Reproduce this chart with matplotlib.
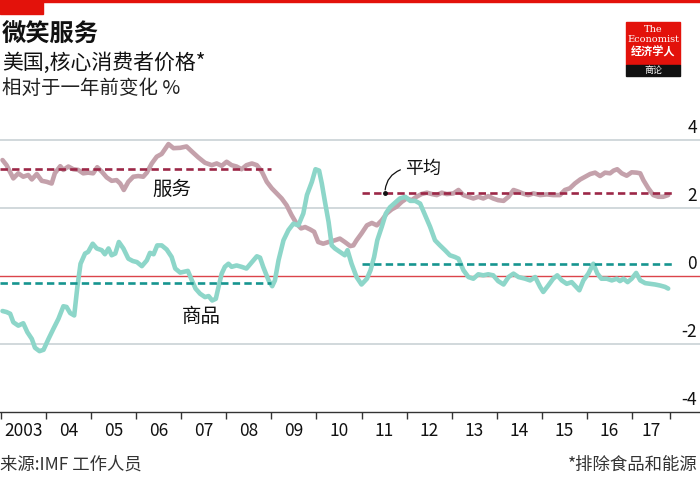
import matplotlib
matplotlib.use("Agg")
import matplotlib.pyplot as plt
from matplotlib.patches import Rectangle

plt.rcParams['font.family'] = ['Noto Sans CJK SC', 'DejaVu Sans']

# services, % change on a year earlier (decimal years)
services_t = [2003.04, 2003.13, 2003.28, 2003.39, 2003.50, 2003.61, 2003.69, 2003.80, 2003.91, 2004.02,
              2004.13, 2004.20, 2004.32, 2004.39, 2004.50, 2004.61, 2004.72, 2004.83, 2004.94, 2005.05,
              2005.14, 2005.24, 2005.35, 2005.46, 2005.57, 2005.65, 2005.73, 2005.83, 2005.94, 2006.05,
              2006.16, 2006.24, 2006.35, 2006.46, 2006.57, 2006.72, 2006.83, 2006.98, 2007.12, 2007.24,
              2007.38, 2007.53, 2007.68, 2007.79, 2007.90, 2008.01, 2008.12, 2008.23, 2008.34, 2008.45,
              2008.57, 2008.68, 2008.79, 2008.90, 2009.01, 2009.12, 2009.23, 2009.34, 2009.45, 2009.56,
              2009.66, 2009.75, 2009.86, 2009.95, 2010.04, 2010.15, 2010.27, 2010.41, 2010.52, 2010.63,
              2010.75, 2010.82, 2010.89, 2011.00, 2011.12, 2011.23, 2011.34, 2011.45, 2011.56, 2011.67,
              2011.78, 2011.89, 2012.00, 2012.11, 2012.22, 2012.33, 2012.45, 2012.56, 2012.67, 2012.78,
              2012.89, 2013.04, 2013.15, 2013.26, 2013.37, 2013.48, 2013.59, 2013.70, 2013.81, 2013.92,
              2014.03, 2014.15, 2014.26, 2014.37, 2014.48, 2014.59, 2014.70, 2014.81, 2014.96, 2015.11,
              2015.25, 2015.40, 2015.51, 2015.62, 2015.73, 2015.85, 2015.96, 2016.07, 2016.18, 2016.29,
              2016.40, 2016.51, 2016.59, 2016.67, 2016.77, 2016.88, 2016.99, 2017.10, 2017.18, 2017.25,
              2017.36, 2017.47, 2017.58, 2017.69, 2017.80]
services_v = [3.41, 3.26, 2.87, 3.02, 2.92, 2.97, 2.84, 3.00, 2.80, 2.77,
              2.72, 3.02, 3.23, 3.12, 3.22, 3.14, 3.12, 3.02, 3.04, 3.02,
              3.20, 3.07, 2.90, 2.80, 2.82, 2.72, 2.53, 2.77, 2.92, 2.94,
              2.92, 3.04, 3.31, 3.51, 3.59, 3.88, 3.76, 3.77, 3.81, 3.66,
              3.49, 3.33, 3.26, 3.31, 3.24, 3.36, 3.26, 3.22, 3.14, 3.26,
              3.31, 3.26, 3.07, 2.77, 2.58, 2.43, 2.28, 2.08, 1.79, 1.54,
              1.40, 1.44, 1.37, 1.30, 1.00, 0.95, 1.00, 1.05, 1.10, 1.00,
              0.88, 0.90, 1.05, 1.25, 1.49, 1.56, 1.49, 1.64, 1.84, 1.96,
              2.04, 2.18, 2.28, 2.23, 2.33, 2.41, 2.45, 2.41, 2.38, 2.45,
              2.41, 2.43, 2.53, 2.38, 2.33, 2.28, 2.33, 2.28, 2.35, 2.28,
              2.23, 2.21, 2.33, 2.53, 2.48, 2.42, 2.38, 2.43, 2.38, 2.40,
              2.38, 2.38, 2.53, 2.58, 2.72, 2.84, 2.92, 3.00, 3.04, 2.94,
              3.04, 3.02, 3.10, 3.14, 3.02, 2.95, 3.05, 3.04, 3.02, 2.82,
              2.58, 2.38, 2.33, 2.33, 2.38]

# goods, % change on a year earlier
goods_t = [2003.04, 2003.13, 2003.21, 2003.28, 2003.39, 2003.50, 2003.59, 2003.69, 2003.76, 2003.86,
           2003.95, 2004.06, 2004.17, 2004.28, 2004.39, 2004.46, 2004.54, 2004.63, 2004.70, 2004.77,
           2004.87, 2004.94, 2005.04, 2005.13, 2005.24, 2005.31, 2005.39, 2005.46, 2005.54, 2005.62,
           2005.72, 2005.83, 2005.93, 2006.02, 2006.13, 2006.24, 2006.31, 2006.39, 2006.47, 2006.57,
           2006.68, 2006.79, 2006.87, 2006.98, 2007.15, 2007.24, 2007.32, 2007.42, 2007.53, 2007.61,
           2007.69, 2007.77, 2007.83, 2007.90, 2007.97, 2008.05, 2008.12, 2008.23, 2008.34, 2008.45,
           2008.57, 2008.68, 2008.75, 2008.82, 2008.94, 2009.02, 2009.08, 2009.16, 2009.27, 2009.38,
           2009.49, 2009.60, 2009.71, 2009.79, 2009.90, 2009.98, 2010.06, 2010.12, 2010.19, 2010.27,
           2010.34, 2010.41, 2010.52, 2010.63, 2010.69, 2010.78, 2010.89, 2011.00, 2011.12, 2011.20,
           2011.28, 2011.35, 2011.45, 2011.54, 2011.63, 2011.74, 2011.85, 2011.97, 2012.08, 2012.19,
           2012.30, 2012.41, 2012.52, 2012.63, 2012.74, 2012.85, 2012.96, 2013.07, 2013.15, 2013.26,
           2013.37, 2013.48, 2013.59, 2013.70, 2013.81, 2013.92, 2014.03, 2014.15, 2014.26, 2014.37,
           2014.48, 2014.63, 2014.74, 2014.85, 2014.96, 2015.03, 2015.14, 2015.25, 2015.34, 2015.44,
           2015.55, 2015.66, 2015.73, 2015.83, 2015.92, 2016.03, 2016.14, 2016.23, 2016.32, 2016.44,
           2016.55, 2016.66, 2016.73, 2016.81, 2016.90, 2016.99, 2017.09, 2017.18, 2017.29, 2017.40,
           2017.51, 2017.62, 2017.73, 2017.80]
goods_v = [-1.03, -1.06, -1.11, -1.36, -1.46, -1.39, -1.65, -1.85, -2.11, -2.21,
           -2.17, -1.85, -1.55, -1.26, -0.89, -0.91, -1.09, -1.16, -0.32, 0.36,
           0.66, 0.71, 0.95, 0.81, 0.76, 0.64, 0.81, 0.61, 0.66, 1.00,
           0.81, 0.51, 0.44, 0.41, 0.29, 0.46, 0.68, 0.64, 0.90, 0.90,
           0.78, 0.56, 0.22, 0.10, 0.15, -0.13, -0.37, -0.52, -0.62, -0.59,
           -0.72, -0.67, -0.32, 0.07, 0.27, 0.36, 0.27, 0.31, 0.27, 0.22,
           0.41, 0.58, 0.54, 0.27, -0.13, -0.30, -0.13, 0.46, 1.05, 1.35,
           1.54, 1.49, 1.84, 2.38, 2.77, 3.14, 3.10, 2.72, 2.18, 1.59,
           0.90, 0.81, 0.71, 0.61, 0.76, 0.36, -0.03, -0.25, -0.08, 0.17,
           0.56, 1.05, 1.45, 1.84, 2.02, 2.15, 2.28, 2.33, 2.21, 2.21,
           2.13, 1.79, 1.45, 1.05, 0.90, 0.76, 0.61, 0.56, 0.51, 0.17,
           -0.03, -0.08, 0.05, 0.02, 0.05, 0.02, -0.15, -0.25, -0.03, 0.07,
           -0.03, -0.08, -0.13, -0.03, -0.32, -0.47, -0.28, -0.08, 0.02, -0.13,
           -0.23, -0.18, -0.28, -0.42, -0.13, 0.07, 0.36, 0.07, -0.08, -0.08,
           -0.13, -0.08, -0.15, -0.08, -0.18, -0.08, 0.09, -0.13, -0.21, -0.23,
           -0.25, -0.28, -0.32, -0.37]

# period averages
avg_periods = [(2002.98, 2009.0), (2011.02, 2017.88)]
avg_services = [3.15, 2.43]
avg_goods = [-0.20, 0.36]

years = list(range(2003, 2018))
year_labels = ['2003'] + ['%02d' % (y % 100) for y in years[1:]]
data_end = 2017.83
y_ticks = [4, 2, 0, -2, -4]

SERV = '#c4a1ab'
SERV_AVG = '#9c2747'
GOODS = '#8dd6c9'
GOODS_AVG = '#16958f'
RED = '#e3120b'

W, H = 700, 488
fig = plt.figure(figsize=(7, 4.88), dpi=100)
ax = fig.add_axes([0, (H - 412) / H, 1, 292.4 / H])
ax.set_xlim(2002.9845, 2018.5055)
ax.set_ylim(-4, 4.6)

for v in [4, 2, -2]:
    ax.axhline(v, color='#c9d2d5', lw=1.2, zorder=1)
ax.axhline(0, color='#db444b', lw=1.0, zorder=2)

ax.plot(services_t, services_v, color=SERV, lw=3.3, solid_capstyle='round',
        solid_joinstyle='round', zorder=3)
ax.plot(goods_t, goods_v, color=GOODS, lw=3.3, solid_capstyle='round',
        solid_joinstyle='round', zorder=3)

for (t0, t1), s, g in zip(avg_periods, avg_services, avg_goods):
    ax.plot([t0, t1], [s, s], color=SERV_AVG, lw=1.9, ls=(0, (2.8, 1.6)), zorder=4)
    ax.plot([t0, t1], [g, g], color=GOODS_AVG, lw=1.9, ls=(0, (2.8, 1.6)), zorder=4)

# labels on the chart
ax.text(2006.8, 2.55, '服务', fontsize=14, ha='center', va='center', color='#111')
ax.text(2007.45, -1.2, '商品', fontsize=14, ha='center', va='center', color='#111')
ax.text(2011.97, 3.15, '平均', fontsize=13, ha='left', va='center', color='#111')
ax.annotate('', xy=(2011.52, 2.45), xytext=(2011.92, 3.15),
            arrowprops=dict(arrowstyle='-', color='#111', lw=0.9,
                            connectionstyle='arc3,rad=0.35'))
ax.plot([2011.52], [2.45], 'o', color='#111', ms=2.5, zorder=5)

# axes styling
for side in ['top', 'right', 'left']:
    ax.spines[side].set_visible(False)
ax.spines['bottom'].set_color('#333333')
ax.spines['bottom'].set_linewidth(1.0)
ax.set_yticks([])
ax.set_xticks(years + [data_end])
ax.set_xticklabels([])
ax.tick_params(axis='x', which='major', length=5, width=1.0, color='#333333', direction='out')
mids = [(a + b) / 2 for a, b in zip(years, years[1:] + [data_end])]
ax.set_xticks(mids, minor=True)
ax.set_xticklabels(year_labels, minor=True)
ax.tick_params(axis='x', which='minor', length=0, pad=7, labelsize=12.5, labelcolor='#111')

for v in y_ticks:
    ax.annotate('%d' % v, xy=(1, v), xycoords=('axes fraction', 'data'),
                xytext=(-2, 2), textcoords='offset points', ha='right', va='bottom',
                fontsize=12.5, color='#111')

# header
fig.patches.append(Rectangle((0, 1 - 2 / H), 1, 2 / H, transform=fig.transFigure,
                             color=RED, zorder=10))
fig.patches.append(Rectangle((0, 1 - 14 / H), 43 / W, 14 / H, transform=fig.transFigure,
                             color=RED, zorder=10))
fig.text(2 / W, 1 - 35 / H, '微笑服务', fontsize=17.5, fontweight='bold', va='center', color='#111')
fig.text(2 / W, 1 - 63 / H, '美国,核心消费者价格*', fontsize=15, va='center', color='#111')
fig.text(2 / W, 1 - 88 / H, '相对于一年前变化 %', fontsize=14, va='center', color='#222')

# logo
fig.patches.append(Rectangle((626 / W, 1 - 65 / H), 54 / W, 43 / H, transform=fig.transFigure,
                             color=RED, zorder=10))
fig.patches.append(Rectangle((626 / W, 1 - 76 / H), 54 / W, 11 / H, transform=fig.transFigure,
                             color='#111111', zorder=10))
cx = 653 / W
fig.text(cx, 1 - 30 / H, 'The', fontsize=7, family='DejaVu Serif', color='white',
         ha='center', va='center', zorder=11)
fig.text(cx, 1 - 39 / H, 'Economist', fontsize=7, family='DejaVu Serif', color='white',
         ha='center', va='center', zorder=11)
fig.text(cx, 1 - 52.5 / H, '经济学人', fontsize=8, fontweight='bold', color='white',
         ha='center', va='center', zorder=11)
fig.text(cx, 1 - 71 / H, '商论', fontsize=6.5, color='white', ha='center', va='center', zorder=11)

# footer
fig.text(0, 1 - 465 / H, '来源:IMF 工作人员', fontsize=12.5, va='center', color='#333')
fig.text(698 / W, 1 - 465 / H, '*排除食品和能源', fontsize=12.5, va='center', ha='right', color='#333')

fig.savefig('out.png', dpi=100)
